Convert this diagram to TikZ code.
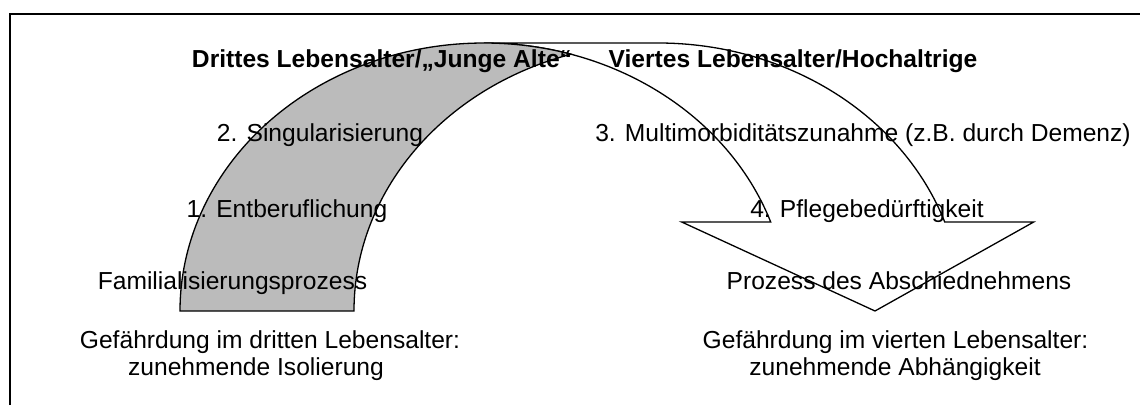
\documentclass[tikz,border=0pt]{standalone}
\usepackage{fontspec}
\setmainfont{Liberation Sans}
\definecolor{backgray}{RGB}{187,187,187}
\begin{document}
\begin{tikzpicture}[x=1pt,y=1pt,
  lbl/.style={anchor=base, inner sep=0pt, font=\fontsize{24.6}{29.5}\selectfont},
  head/.style={anchor=base, inner sep=0pt, font=\fontsize{24.6}{29.5}\selectfont\bfseries},
  band/.style={draw=black, line width=1.3pt, line join=miter}]
\useasboundingbox (0,0) rectangle (1140,405);
\draw[line width=2pt] (10,0) -- (10,391) -- (1140,391);
% front (descending) part of the curved arrow
\draw[band, fill=white] (875,94) -- (681.7,183) -- (770.7,183)
  arc[start angle=19.4, end angle=90, x radius=304, y radius=268]
  -- (658,362)
  arc[start angle=90, end angle=19.4, x radius=304, y radius=268]
  -- (1033.7,183) -- cycle;
% back (rising) part
\draw[band, fill=backgray] (180,94)
  arc[start angle=180, end angle=73.37, x radius=304, y radius=268]
  arc[start angle=106.63, end angle=180, x radius=304, y radius=268]
  -- cycle;
% labels
\node[head] (h3) at (382,337) {Drittes Lebensalter/„Junge Alte“};
\node[head] (h4) at (793,337) {Viertes Lebensalter/Hochaltrige};
\node[lbl] (s2) at (320,263) {2. Singularisierung};
\node[lbl] (s3) at (863,263) {3. Multimorbiditätszunahme (z.B. durch Demenz)};
\node[lbl] (s1) at (287,188) {1. Entberuflichung};
\node[lbl] (s4) at (867,188) {4. Pflegebedürftigkeit};
\node[lbl] (p3) at (232.5,116) {Familialisierungsprozess};
\node[lbl] (p4) at (899,116) {Prozess des Abschiednehmens};
\node[lbl] (g3a) at (270,57) {Gefährdung im dritten Lebensalter:};
\node[lbl] (g3b) at (256,30) {zunehmende Isolierung};
\node[lbl] (g4a) at (895.5,57) {Gefährdung im vierten Lebensalter:};
\node[lbl] (g4b) at (895,30) {zunehmende Abhängigkeit};
\end{tikzpicture}
\end{document}
